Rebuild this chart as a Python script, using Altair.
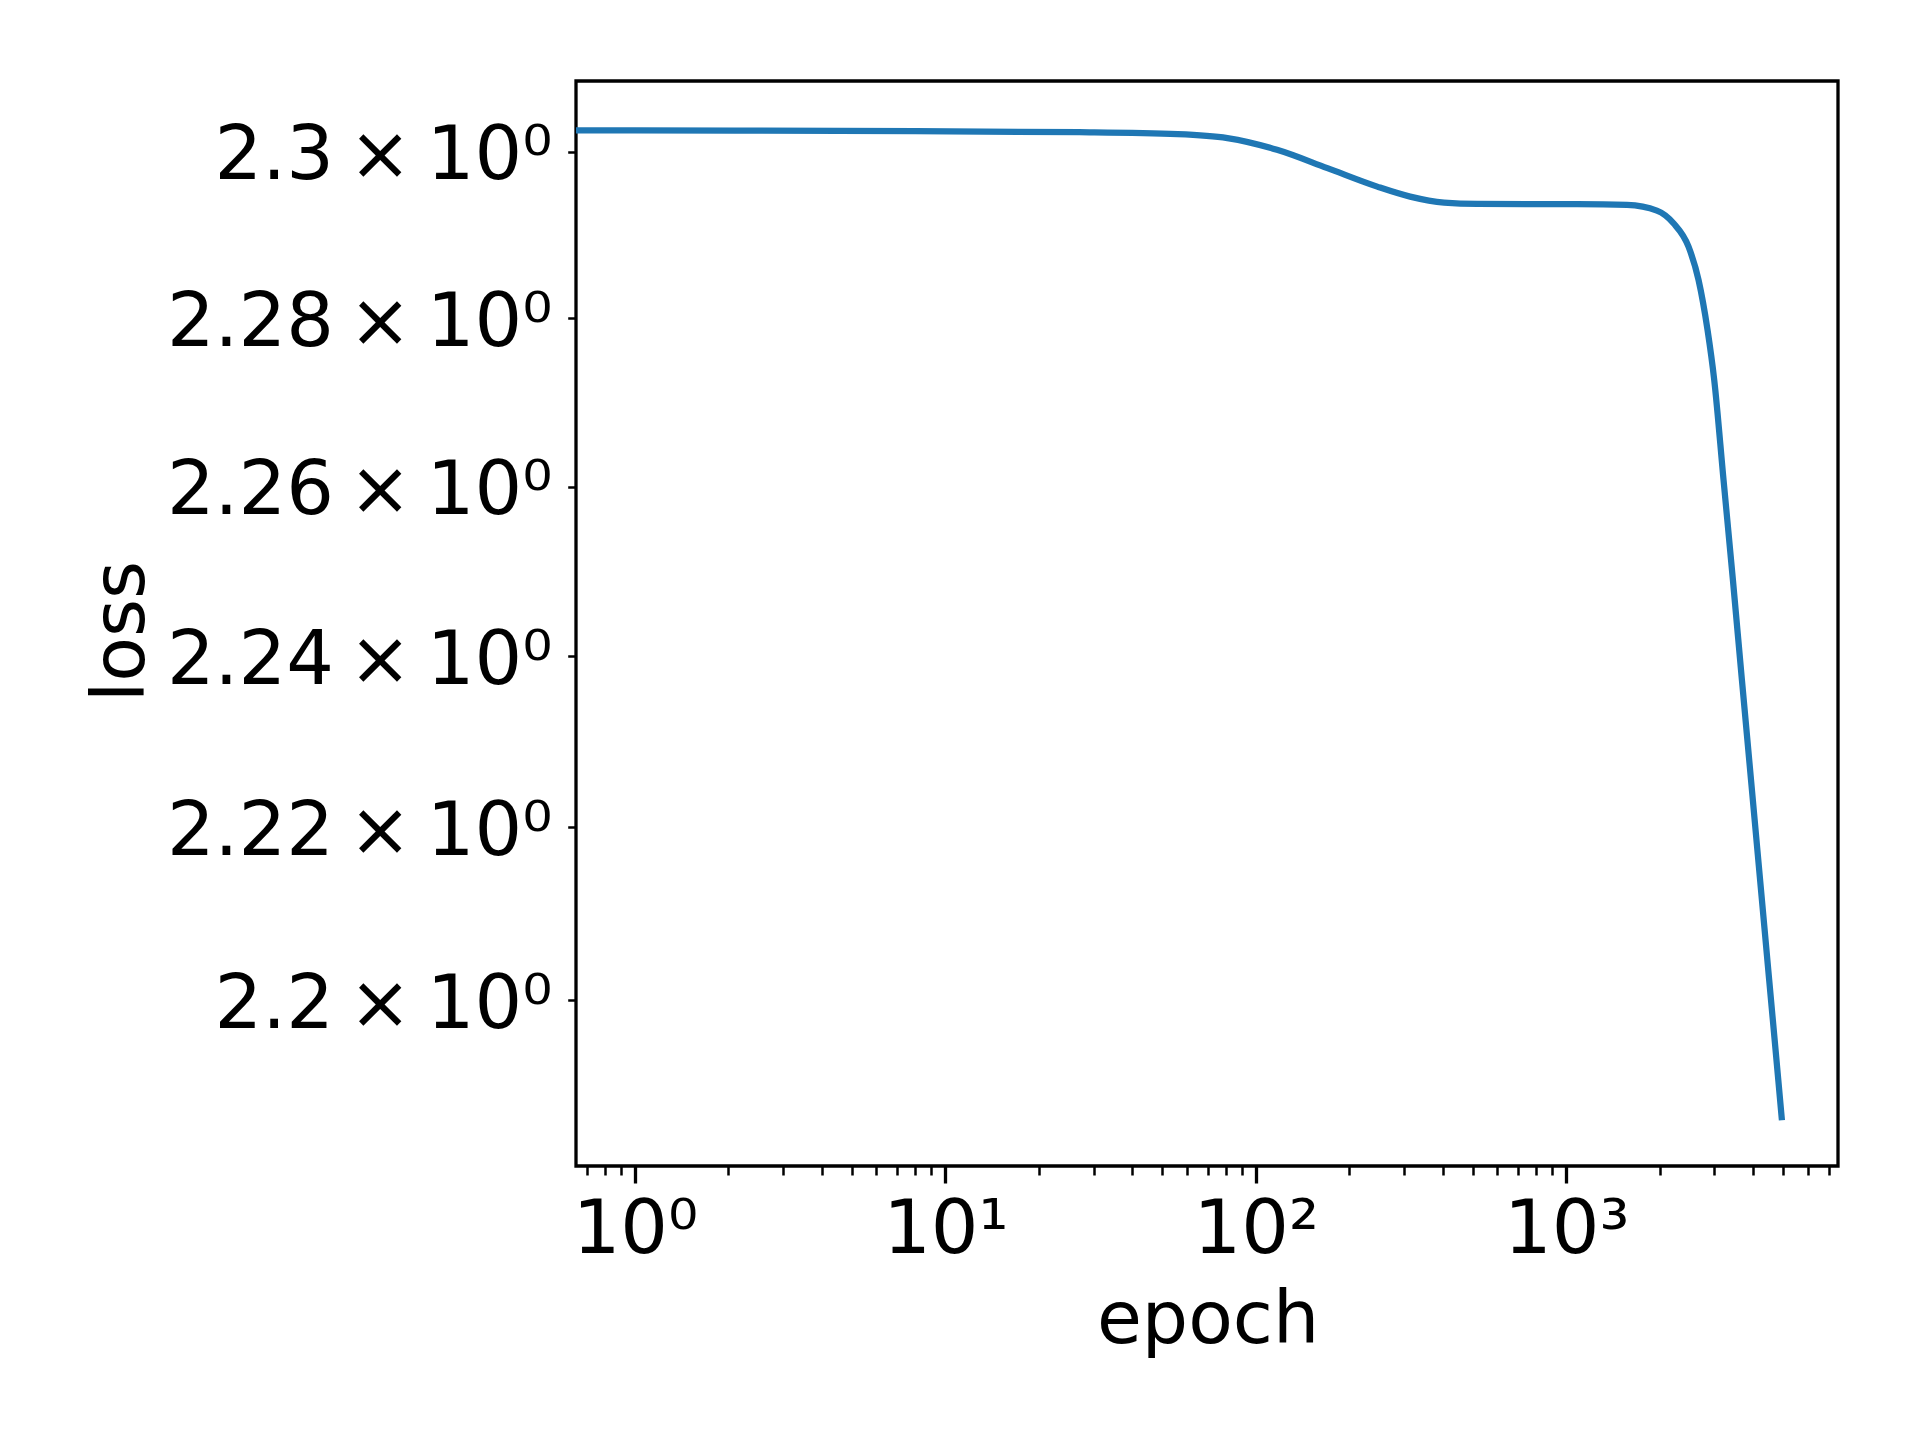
import altair as alt
import pandas as pd

# Training-loss curve
EPOCHS = [0, 1, 8, 27, 56, 81, 117, 170, 246, 314,
          404, 517, 1084, 1568, 1957, 2214, 2475, 2666, 2850, 2995,
          3209, 3440, 3678, 3935, 4209, 4502, 4817, 4948]
LOSS = [2.30258, 2.30255, 2.30247, 2.30234, 2.30210, 2.30162, 2.30021, 2.29800, 2.29578, 2.29458,
        2.29386, 2.29370, 2.29368, 2.29358, 2.29290, 2.29138, 2.28857, 2.28458, 2.27860, 2.27264,
        2.26076, 2.24894, 2.23718, 2.22550, 2.21386, 2.20231, 2.19079, 2.18620]

X_DOMAIN = [0.6461, 7499]
Y_DOMAIN = [2.18097, 2.30852]
Y_TICKS = [2.2, 2.22, 2.24, 2.26, 2.28, 2.3]
X_TICKS = [0.7, 0.8, 0.9] + [m * 10 ** k for k in range(0, 4) for m in range(1, 10) if m * 10 ** k <= 7000]

df = pd.DataFrame({"epoch": EPOCHS, "loss": LOSS})

FONT = "DejaVu Sans"
IS_MAJOR = "abs(log(datum.value)/LN10 - round(log(datum.value)/LN10)) < 1e-9"
SUP = "['⁰','¹','²','³','⁴']"

x_axis = alt.Axis(
    values=X_TICKS,
    title="epoch",
    titleFont=FONT, titleFontSize=73, titleFontWeight="normal", titleColor="black",
    titleX=631.6, titleY=176.7, titleBaseline="alphabetic", titleAlign="center",
    labelExpr=f"({IS_MAJOR}) ? '10' + {SUP}[round(log(datum.value)/LN10)] : ''",
    labelFont=FONT, labelFontSize=75, labelColor="black", labelLimit=2000,
    labelBaseline="alphabetic", labelPadding=69,
    labelOverlap=False, labelFlush=False, labelBound=False,
    tickSize={"condition": {"test": IS_MAJOR, "value": 17}, "value": 9},
    tickWidth={"condition": {"test": IS_MAJOR, "value": 3.3}, "value": 2.5},
    tickColor="black", domain=False, grid=False,
)

y_axis = alt.Axis(
    values=Y_TICKS,
    title="loss",
    titleFont=FONT, titleFontSize=73, titleFontWeight="normal", titleColor="black",
    titleX=-432.7, titleY=550, titleAngle=270, titleBaseline="alphabetic", titleAlign="center",
    labelExpr="format(datum.value, '.3~g') + '\u2009×\u200910⁰'",
    labelFont=FONT, labelFontSize=75, labelColor="black", labelLimit=2000,
    labelBaseline="alphabetic", labelAlign="right", labelPadding=16, labelOffset=27,
    labelOverlap=False, labelBound=False, labelFlush=False,
    tickSize=8.3, tickWidth=2.5, tickColor="black", domain=False, grid=False,
)

chart = (
    alt.Chart(df)
    .transform_calculate(x="max(datum.epoch, 0.5)")
    .mark_line(clip=True, interpolate="monotone", color="#1f77b4", strokeWidth=6.25)
    .encode(
        x=alt.X("x:Q", scale=alt.Scale(type="log", domain=X_DOMAIN, nice=False, zero=False), axis=x_axis),
        y=alt.Y("loss:Q", scale=alt.Scale(type="log", domain=Y_DOMAIN, nice=False, zero=False), axis=y_axis),
    )
    .properties(
        width=1262, height=1085, autosize="none",
        padding={"left": 568, "top": 73, "right": 74, "bottom": 266},
        background="white",
    )
    .configure_view(stroke="black", strokeWidth=3.3)
)

chart.save("out.html", embed_options={"renderer": "svg", "actions": False})
